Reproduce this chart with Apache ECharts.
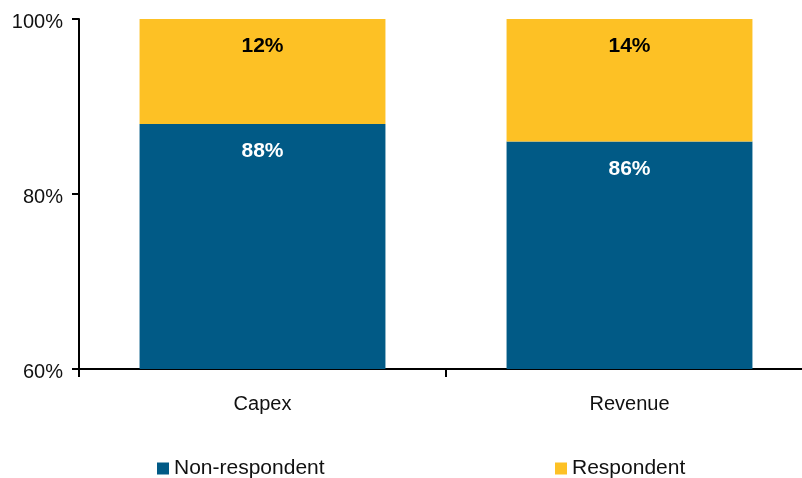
<!DOCTYPE html>
<html>
<head>
<meta charset="utf-8">
<script src="https://cdn.jsdelivr.net/npm/echarts@6/dist/echarts.min.js"></script>
<style>
html,body{margin:0;padding:0;background:#fff;}
#chart{width:802px;height:478px;}
</style>
</head>
<body>
<div id="chart"></div>
<script>
var categories = ['Capex', 'Revenue'];
var nonRespondent = [88, 86];
var respondent = [12, 14];
var yTicks = { min: 60, max: 100, interval: 20 };

var FONT = '"Liberation Sans", Arial, Helvetica, sans-serif';
var chart = echarts.init(document.getElementById('chart'), null, { renderer: 'canvas' });
chart.setOption({
  animation: false,
  backgroundColor: '#ffffff',
  textStyle: { fontFamily: FONT },
  grid: { left: 79, top: 19, bottom: 109, right: -11, containLabel: false, outerBoundsMode: 'none' },
  legend: [
    { data: ['Non-respondent'], left: 152, top: 453, itemWidth: 12, itemHeight: 12, icon: 'rect',
      textStyle: { fontFamily: FONT, fontSize: 21, color: '#111' } },
    { data: ['Respondent'], left: 550, top: 453, itemWidth: 12, itemHeight: 12, icon: 'rect',
      textStyle: { fontFamily: FONT, fontSize: 21, color: '#111' } }
  ],
  xAxis: {
    type: 'category',
    data: categories,
    axisLine: { lineStyle: { color: '#000', width: 2 } },
    axisTick: { show: true, alignWithLabel: false, length: 8, lineStyle: { color: '#000', width: 2 } },
    axisLabel: { fontFamily: FONT, fontSize: 20, color: '#111', margin: 25 }
  },
  yAxis: {
    type: 'value',
    min: yTicks.min, max: yTicks.max, interval: yTicks.interval,
    axisLine: { show: true, lineStyle: { color: '#000', width: 2 } },
    axisTick: { show: true, length: 7, lineStyle: { color: '#000', width: 2 } },
    splitLine: { show: false },
    axisLabel: { margin: 16, formatter: '{t|{value}%}',
      rich: { t: { fontFamily: FONT, fontSize: 20, color: '#111', padding: [7, 0, 0, 0] } } }
  },
  series: [
    {
      name: 'Non-respondent', type: 'bar', stack: 'total', data: nonRespondent,
      barCategoryGap: '33%',
      itemStyle: { color: '#015A86' },
      label: { show: true, position: 'insideTop', distance: 17, formatter: '{c}%',
        fontFamily: FONT, fontSize: 21, fontWeight: 'bold', color: '#ffffff' }
    },
    {
      name: 'Respondent', type: 'bar', stack: 'total', data: respondent,
      barCategoryGap: '33%',
      itemStyle: { color: '#FDC125' },
      label: { show: true, position: 'insideTop', distance: 17, formatter: '{c}%',
        fontFamily: FONT, fontSize: 21, fontWeight: 'bold', color: '#000000' }
    }
  ]
});
</script>
</body>
</html>
